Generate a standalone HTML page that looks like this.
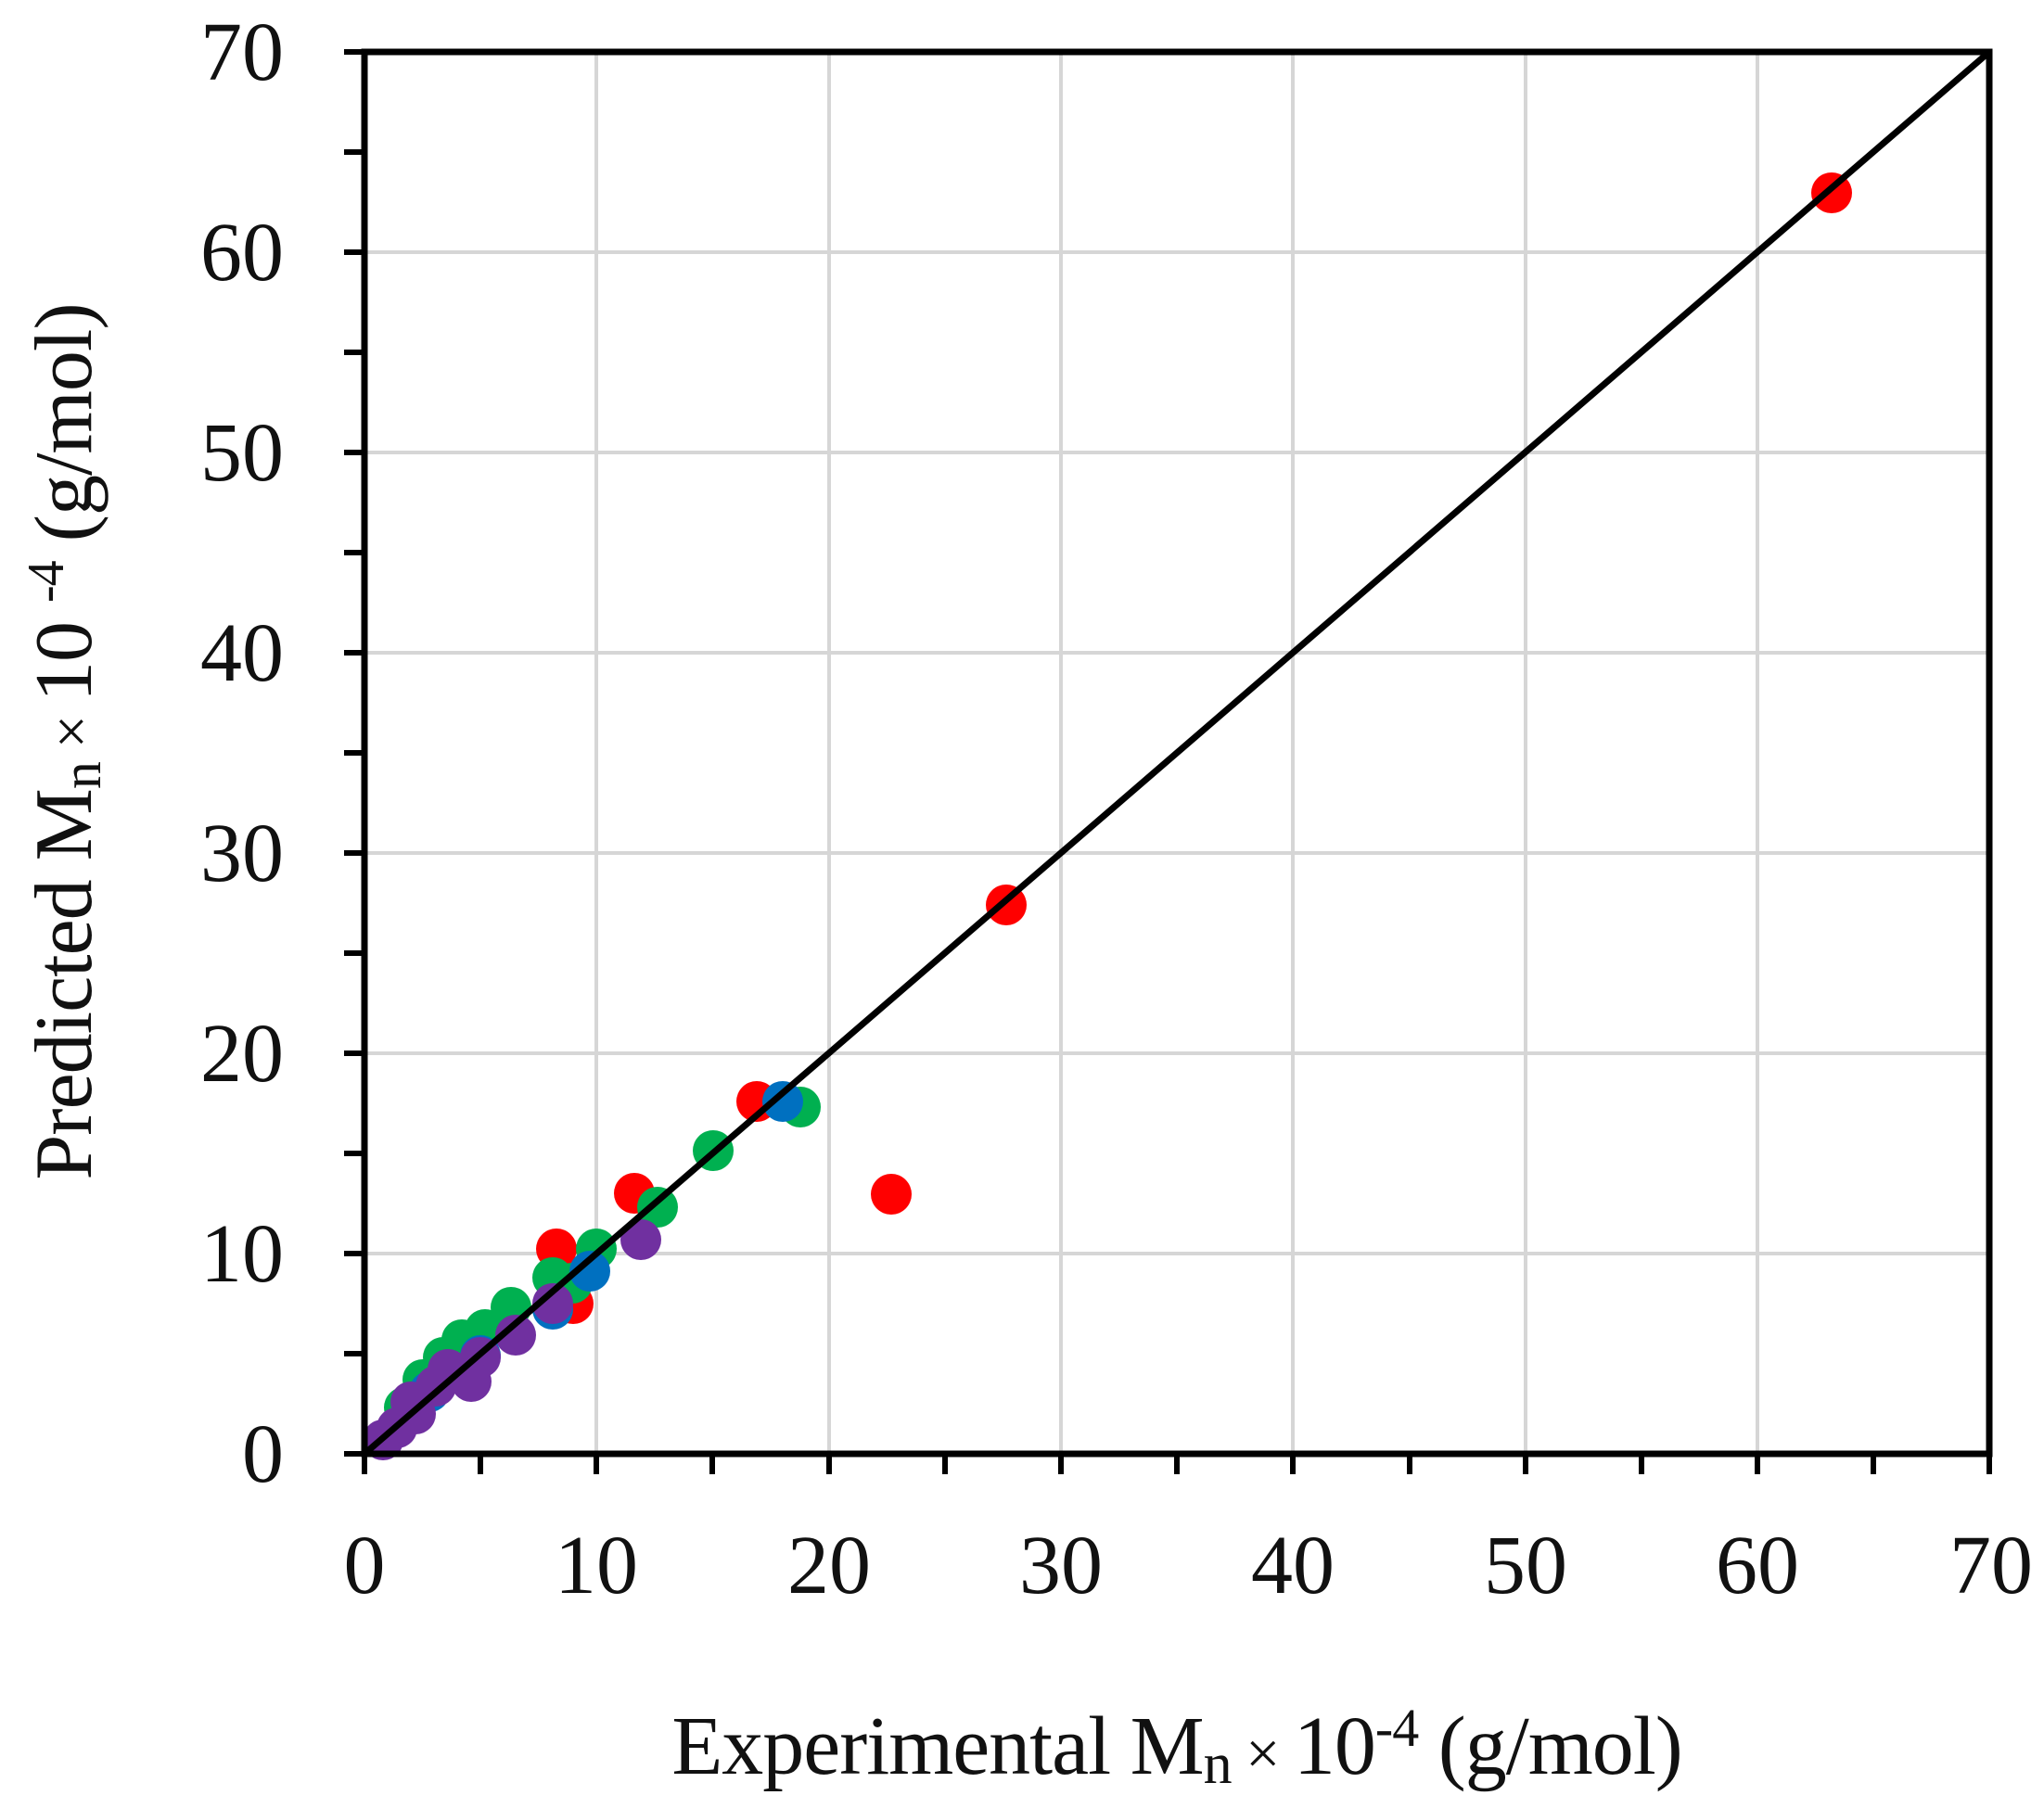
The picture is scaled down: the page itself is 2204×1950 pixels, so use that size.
<!DOCTYPE html>
<html><head><meta charset="utf-8"><style>
html,body{margin:0;padding:0;background:#fff;}
svg{display:block;}
text{font-family:"Liberation Serif",serif;fill:#111;}
</style></head><body>
<svg width="2204" height="1950" viewBox="0 0 2204 1950" xmlns="http://www.w3.org/2000/svg">
<g stroke="#d6d6d6" stroke-width="4">
<line x1="643" y1="56" x2="643" y2="1568"/><line x1="894" y1="56" x2="894" y2="1568"/><line x1="1144" y1="56" x2="1144" y2="1568"/><line x1="1394" y1="56" x2="1394" y2="1568"/><line x1="1645" y1="56" x2="1645" y2="1568"/><line x1="1895" y1="56" x2="1895" y2="1568"/>
<line x1="393" y1="272" x2="2145" y2="272"/><line x1="393" y1="488" x2="2145" y2="488"/><line x1="393" y1="704" x2="2145" y2="704"/><line x1="393" y1="920" x2="2145" y2="920"/><line x1="393" y1="1136" x2="2145" y2="1136"/><line x1="393" y1="1352" x2="2145" y2="1352"/>
</g>
<g>
<g fill="#ff0000">
<circle cx="1975" cy="208" r="22"/><circle cx="1085" cy="976" r="22"/><circle cx="816" cy="1188" r="22"/><circle cx="961" cy="1288" r="22"/><circle cx="684" cy="1287" r="22"/><circle cx="600" cy="1347" r="22"/><circle cx="618" cy="1406" r="22"/>
</g>
<g fill="#00b050">
<circle cx="863" cy="1194" r="22"/><circle cx="769" cy="1241" r="22"/><circle cx="709" cy="1302" r="22"/><circle cx="643" cy="1347" r="22"/><circle cx="596" cy="1378" r="22"/><circle cx="617" cy="1384" r="22"/><circle cx="551" cy="1410" r="22"/><circle cx="523" cy="1434" r="22"/><circle cx="498" cy="1445" r="22"/><circle cx="478" cy="1464" r="22"/><circle cx="456" cy="1488" r="22"/><circle cx="436" cy="1518" r="22"/>
</g>
<g fill="#0070c0">
<circle cx="844" cy="1188" r="22"/><circle cx="636" cy="1371" r="22"/><circle cx="596" cy="1412" r="22"/><circle cx="518" cy="1462" r="22"/><circle cx="463" cy="1501" r="22"/>
</g>
<g fill="#7030a0">
<circle cx="691" cy="1337" r="22"/><circle cx="596" cy="1406" r="22"/><circle cx="556" cy="1440" r="22"/><circle cx="518" cy="1464" r="22"/><circle cx="508" cy="1490" r="22"/><circle cx="483" cy="1477" r="22"/><circle cx="448" cy="1525" r="22"/><circle cx="428" cy="1540" r="22"/><circle cx="413" cy="1553" r="22"/><circle cx="443" cy="1512" r="22"/><circle cx="470" cy="1495" r="22"/>
</g>
</g>
<line x1="393" y1="1568" x2="2145" y2="56" stroke="#000" stroke-width="7"/>
<rect x="393" y="56" width="1752" height="1512" stroke="#000" stroke-width="7" fill="none"/>
<g stroke="#000" stroke-width="6">
<line x1="393" y1="1568" x2="393" y2="1590"/><line x1="518" y1="1568" x2="518" y2="1590"/><line x1="643" y1="1568" x2="643" y2="1590"/><line x1="768" y1="1568" x2="768" y2="1590"/><line x1="894" y1="1568" x2="894" y2="1590"/><line x1="1019" y1="1568" x2="1019" y2="1590"/><line x1="1144" y1="1568" x2="1144" y2="1590"/><line x1="1269" y1="1568" x2="1269" y2="1590"/><line x1="1394" y1="1568" x2="1394" y2="1590"/><line x1="1520" y1="1568" x2="1520" y2="1590"/><line x1="1645" y1="1568" x2="1645" y2="1590"/><line x1="1770" y1="1568" x2="1770" y2="1590"/><line x1="1895" y1="1568" x2="1895" y2="1590"/><line x1="2020" y1="1568" x2="2020" y2="1590"/><line x1="2145" y1="1568" x2="2145" y2="1590"/>
<line x1="371" y1="56" x2="393" y2="56"/><line x1="371" y1="164" x2="393" y2="164"/><line x1="371" y1="272" x2="393" y2="272"/><line x1="371" y1="380" x2="393" y2="380"/><line x1="371" y1="488" x2="393" y2="488"/><line x1="371" y1="596" x2="393" y2="596"/><line x1="371" y1="704" x2="393" y2="704"/><line x1="371" y1="812" x2="393" y2="812"/><line x1="371" y1="920" x2="393" y2="920"/><line x1="371" y1="1028" x2="393" y2="1028"/><line x1="371" y1="1136" x2="393" y2="1136"/><line x1="371" y1="1244" x2="393" y2="1244"/><line x1="371" y1="1352" x2="393" y2="1352"/><line x1="371" y1="1460" x2="393" y2="1460"/><line x1="371" y1="1568" x2="393" y2="1568"/>
</g>
<g font-size="90" text-anchor="end">
<text x="306" y="86">70</text><text x="306" y="302">60</text><text x="306" y="518">50</text><text x="306" y="734">40</text><text x="306" y="950">30</text><text x="306" y="1166">20</text><text x="306" y="1382">10</text><text x="306" y="1598">0</text>
</g>
<g font-size="90" text-anchor="middle">
<text x="393" y="1718">0</text><text x="643" y="1718">10</text><text x="894" y="1718">20</text><text x="1144" y="1718">30</text><text x="1394" y="1718">40</text><text x="1645" y="1718">50</text><text x="1895" y="1718">60</text><text x="2147" y="1718">70</text>
</g>
<text x="1269" y="1913" font-size="90" text-anchor="middle" letter-spacing="-1">Experimental M<tspan font-size="62" dy="10">n</tspan><tspan font-size="66" dy="-10"> × </tspan>10<tspan font-size="58" dy="-30">-4</tspan><tspan dy="30"> (g/mol)</tspan></text>
<text transform="translate(98,800) rotate(-90)" font-size="88" text-anchor="middle" letter-spacing="-1">Predicted M<tspan font-size="60" dy="10">n</tspan><tspan font-size="64" dy="-10"> × </tspan>10 <tspan font-size="56" dy="-30">-4</tspan><tspan dy="30"> (g/mol)</tspan></text>
</svg>
</body></html>
